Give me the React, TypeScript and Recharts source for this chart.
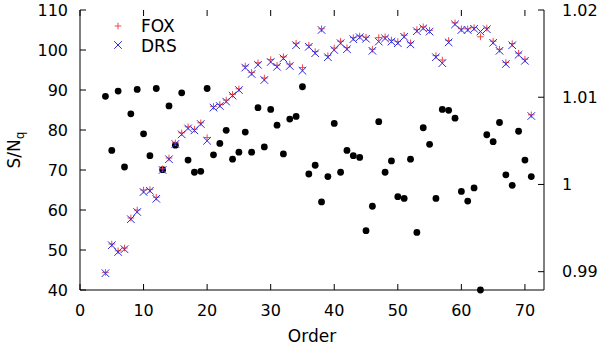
import React from 'react';
import { ScatterChart, Scatter, XAxis, YAxis } from 'recharts';

// echelle order numbers
const orders = [
  4, 5, 6, 7, 8, 9, 10, 11, 12, 13, 14, 15, 16, 17, 18, 19, 20, 21, 22, 23, 24, 25, 26, 27,
  28, 29, 30, 31, 32, 33, 34, 35, 36, 37, 38, 39, 40, 41, 42, 43, 44, 45, 46, 47, 48, 49, 50,
  51, 52, 53, 54, 55, 56, 57, 58, 59, 60, 61, 62, 63, 64, 65, 66, 67, 68, 69, 70, 71,
];

// S/N_q per order, DRS pipeline
const drsSn = [
  44.2, 51.2, 49.5, 50.2, 57.7, 59.5, 64.5, 64.8, 62.8, 70.0, 72.7, 76.5, 78.9, 80.4, 79.9,
  81.5, 77.3, 85.6, 86.0, 87.1, 88.6, 90.0, 95.6, 94.0, 96.3, 92.5, 97.0, 95.8, 97.9, 96.0,
  101.2, 94.8, 100.8, 99.2, 105.0, 98.2, 100.0, 101.7, 100.2, 102.7, 103.2, 102.8, 99.8,
  102.1, 102.9, 102.1, 101.7, 103.3, 101.4, 104.7, 105.4, 104.6, 98.2, 96.7, 101.9, 106.4,
  105.0, 105.0, 105.3, 104.6, 105.2, 101.8, 99.8, 96.5, 101.2, 98.8, 97.3, 83.5,
];

// S/N_q per order, FOX extraction
const foxSn = [
  44.4, 51.5, 49.8, 50.5, 58.0, 60.0, 65.0, 65.1, 63.2, 70.3, 73.0, 76.8, 79.3, 80.8, 80.2,
  81.8, 78.1, 85.9, 86.4, 87.5, 88.9, 90.3, 96.0, 94.4, 96.8, 93.0, 97.6, 96.2, 98.3, 96.5,
  101.7, 95.6, 101.2, 99.6, 105.3, 98.6, 100.5, 102.2, 100.6, 103.1, 103.5, 103.2, 100.2,
  103.1, 103.3, 102.5, 102.1, 103.7, 101.8, 105.1, 105.8, 104.9, 98.6, 97.5, 102.4, 106.8,
  105.3, 105.3, 105.6, 103.3, 105.5, 102.2, 100.2, 96.9, 101.6, 99.2, 97.7, 83.8,
];

// FOX / DRS ratio (right axis)
const snRatio = [
  1.0101, 1.0039, 1.0107, 1.0020, 1.0081, 1.0109, 1.0058, 1.0033, 1.0110, 1.0017, 1.0090,
  1.0045, 1.0105, 1.0028, 1.0014, 1.0015, 1.0110, 1.0034, 1.0047, 1.0062, 1.0029, 1.0037,
  1.0060, 1.0037, 1.0088, 1.0043, 1.0086, 1.0068, 1.0035, 1.0075, 1.0078, 1.0112, 1.0012,
  1.0022, 0.9980, 1.0009, 1.0070, 1.0014, 1.0039, 1.0033, 1.0031, 0.9947, 0.9975, 1.0072,
  1.0014, 1.0027, 0.9986, 0.9984, 1.0029, 0.9945, 1.0065, 1.0046, 0.9984, 1.0086, 1.0085,
  1.0076, 0.9992, 0.9981, 0.9996, 0.9879, 1.0057, 1.0049, 1.0071, 1.0011, 0.9999, 1.0061,
  1.0028, 1.0009,
];

const xTicks = [0, 10, 20, 30, 40, 50, 60, 70];
const leftTicks = [40, 50, 60, 70, 80, 90, 100, 110];
const rightTicks = [0.99, 1, 1.01, 1.02];
const rightTickLabels = ['0.99', '1', '1.01', '1.02'];

const W = 600;
const H = 346;
const TOP = 10;
const LEFT = 80;
const RIGHT = 544;
const BOTTOM = 290;
const TICK = 6;
const FONT = 'DejaVu Sans, sans-serif';
const FOX_COLOR = '#f04848';
const DRS_COLOR = '#2b2be0';

const foxData = orders.map((o, i) => ({ x: o, y: foxSn[i] }));
const drsData = orders.map((o, i) => ({ x: o, y: drsSn[i] }));
const ratioData = orders.map((o, i) => ({ x: o, y: snRatio[i] }));

const plus = (p: any) => (
  <path
    d={`M${p.cx - 3.3},${p.cy}h6.6M${p.cx},${p.cy - 3.3}v6.6`}
    stroke={FOX_COLOR}
    strokeWidth={1}
    fill="none"
  />
);

const cross = (p: any) => (
  <path
    d={`M${p.cx - 3.8},${p.cy - 3.8}L${p.cx + 3.8},${p.cy + 3.8}M${p.cx - 3.8},${p.cy + 3.8}L${p.cx + 3.8},${p.cy - 3.8}`}
    stroke={DRS_COLOR}
    strokeWidth={1}
    fill="none"
  />
);

const dot = (p: any) => <circle cx={p.cx} cy={p.cy} r={3.4} fill="#000" />;

const XTick = (props: any) => {
  const x = props.x;
  return (
    <g>
      <line x1={x} x2={x} y1={BOTTOM} y2={BOTTOM - TICK} stroke="#000" />
      <line x1={x} x2={x} y1={TOP} y2={TOP + TICK} stroke="#000" />
      <text x={x} y={315.5} textAnchor="middle" fontSize={16} fontFamily={FONT} fill="#000">
        {props.payload.value}
      </text>
    </g>
  );
};

const LeftTick = (props: any) => {
  const y = props.y;
  return (
    <g>
      <line x1={LEFT} x2={LEFT + TICK} y1={y} y2={y} stroke="#000" />
      <text x={68} y={y + 5.5} textAnchor="end" fontSize={16} fontFamily={FONT} fill="#000">
        {props.payload.value}
      </text>
    </g>
  );
};

const RightTick = (props: any) => {
  const y = props.y;
  const i = rightTicks.indexOf(props.payload.value);
  return (
    <g>
      <line x1={RIGHT - TICK} x2={RIGHT} y1={y} y2={y} stroke="#000" />
      <text x={562} y={y + 5.5} textAnchor="start" fontSize={16} fontFamily={FONT} fill="#000">
        {i >= 0 ? rightTickLabels[i] : props.payload.value}
      </text>
    </g>
  );
};

export default function App() {
  return (
    <div style={{ position: 'absolute', left: 0, top: 0, background: '#fff' }}>
      <ScatterChart width={W} height={H} margin={{ top: TOP, right: 0, bottom: 0, left: 0 }}>
        <XAxis
          xAxisId="b"
          type="number"
          dataKey="x"
          domain={[0, 73]}
          ticks={xTicks}
          height={56}
          tickLine={false}
          axisLine={{ stroke: '#000' }}
          tick={XTick}
        />
        <XAxis
          xAxisId="t"
          orientation="top"
          type="number"
          dataKey="x"
          domain={[0, 73]}
          height={0}
          tick={false}
          tickLine={false}
          axisLine={{ stroke: '#000' }}
        />
        <YAxis
          yAxisId="l"
          type="number"
          dataKey="y"
          domain={[40, 110]}
          ticks={leftTicks}
          width={80}
          tickLine={false}
          axisLine={{ stroke: '#000' }}
          tick={LeftTick}
        />
        <YAxis
          yAxisId="r"
          orientation="right"
          type="number"
          dataKey="y"
          domain={[0.9879, 1.02]}
          ticks={rightTicks}
          width={56}
          tickLine={false}
          axisLine={{ stroke: '#000' }}
          tick={RightTick}
        />
        <Scatter data={ratioData} xAxisId="b" yAxisId="r" shape={dot} isAnimationActive={false} />
        <Scatter data={foxData} xAxisId="b" yAxisId="l" shape={plus} isAnimationActive={false} />
        <Scatter data={drsData} xAxisId="b" yAxisId="l" shape={cross} isAnimationActive={false} />

        <g fontFamily={FONT} fill="#000">
          <path d="M114.7,26h6.6M118,22.7v6.6" stroke={FOX_COLOR} fill="none" />
          <text x={141} y={32} fontSize={17}>FOX</text>
          <path d="M114.2,41.2L121.8,48.8M114.2,48.8L121.8,41.2" stroke={DRS_COLOR} fill="none" />
          <text x={141} y={51.5} fontSize={17}>DRS</text>
          <text x={312} y={342} fontSize={17} textAnchor="middle">Order</text>
          <text transform="translate(20,150) rotate(-90)" fontSize={17} textAnchor="middle">
            S/N<tspan fontSize={12} dy={4}>q</tspan>
          </text>
        </g>
      </ScatterChart>
    </div>
  );
}
